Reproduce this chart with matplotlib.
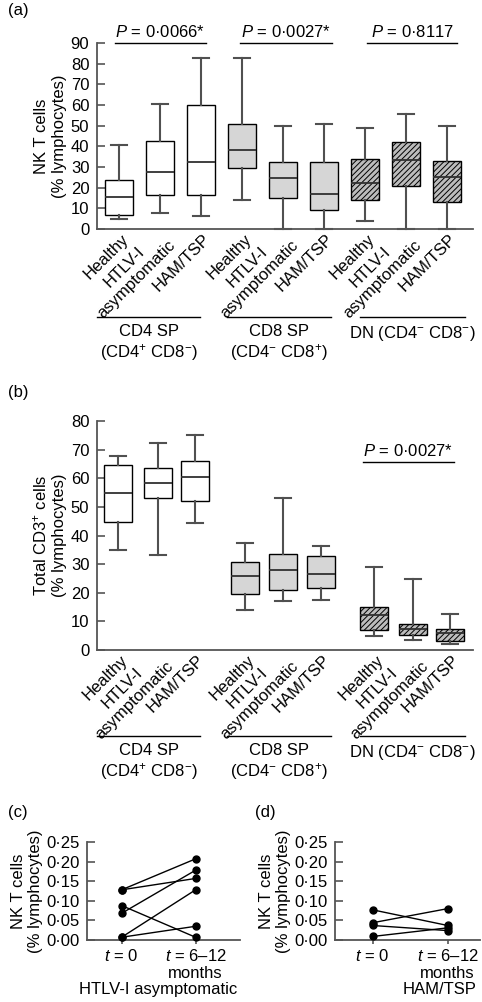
import numpy as np
import matplotlib
matplotlib.use('Agg')
import matplotlib.pyplot as plt
from matplotlib.transforms import ScaledTranslation, offset_copy
from matplotlib.ticker import FuncFormatter

plt.rcParams['font.family'] = ['Liberation Sans', 'DejaVu Sans']
plt.rcParams['mathtext.fontset'] = 'custom'
plt.rcParams['mathtext.rm'] = 'Liberation Sans'
plt.rcParams['mathtext.it'] = 'Liberation Sans:italic'
plt.rcParams['font.size'] = 12
plt.rcParams['hatch.linewidth'] = 0.7

# categorias
subjects = ['Healthy', 'HTLV-I\nasymptomatic', 'HAM/TSP']
groups = ['CD4 SP\n(CD4$^{+}$ CD8$^{-}$)', 'CD8 SP\n(CD4$^{-}$ CD8$^{+}$)', 'DN (CD4$^{-}$ CD8$^{-}$)']

# (a) NK T cells, % lymphocytes (whisker low, Q1, median, Q3, whisker high)
nkt_low = [4.8, 7.7, 6.1, 14.0, 0.0, 0.0, 4.0, 0.0, 0.0]
nkt_q1 = [6.9, 16.6, 16.6, 29.3, 15.1, 9.2, 13.8, 20.6, 12.9]
nkt_med = [15.7, 27.6, 32.3, 38.1, 24.9, 16.9, 22.2, 33.3, 25.1]
nkt_q3 = [23.8, 42.8, 59.8, 50.8, 32.6, 32.6, 34.0, 42.1, 33.1]
nkt_high = [40.5, 60.6, 82.9, 82.9, 49.8, 51.0, 49.0, 55.8, 49.8]
nkt_pvals = ['$P$ = 0·0066*', '$P$ = 0·0027*', '$P$ = 0·8117']

# (b) Total CD3+ cells, % lymphocytes
cd3_low = [35.1, 33.1, 44.4, 13.8, 17.0, 17.4, 4.9, 3.5, 2.1]
cd3_q1 = [44.7, 53.1, 52.0, 19.7, 21.0, 21.5, 6.9, 5.4, 3.3]
cd3_med = [54.7, 58.2, 60.6, 26.0, 28.0, 26.4, 12.3, 7.4, 5.8]
cd3_q3 = [64.8, 63.5, 66.1, 30.8, 33.6, 32.7, 15.0, 9.2, 7.2]
cd3_high = [67.7, 72.4, 75.0, 37.5, 53.0, 36.5, 29.0, 24.7, 12.7]
cd3_pval = '$P$ = 0·0027*'

# (c) y (d) pares t=0 -> t=6-12 meses
htlv_t0 = [0.128, 0.128, 0.068, 0.088, 0.007, 0.007]
htlv_t1 = [0.207, 0.157, 0.178, 0.007, 0.128, 0.035]
ham_t0 = [0.077, 0.044, 0.037, 0.009]
ham_t1 = [0.037, 0.080, 0.024, 0.031]
time_labels = ['$t$ = 0', '$t$ = 6–12\nmonths']

face_colors = ['white'] * 3 + ['#d6d6d6'] * 3 + ['#bcbcbc'] * 3
hatches = [None] * 6 + ['//////'] * 3
pos_a = [1, 2, 3, 4, 5, 6, 7, 8, 9]
pos_b = [0.98, 1.95, 2.85, 4.07, 5.0, 5.93, 7.22, 8.17, 9.07]
group_spans = [(0.46, 2.98), (3.63, 6.17), (6.88, 9.44)]

fig = plt.figure(figsize=(4.82, 10.02), dpi=100)
ax_a = fig.add_axes([97/482, 1-229/1002, 376/482, 186/1002])
ax_b = fig.add_axes([97/482, 1-650/1002, 376/482, 229/1002])
ax_c = fig.add_axes([87/482, 1-940/1002, 153/482, 98/1002])
ax_d = fig.add_axes([335/482, 1-940/1002, 145/482, 98/1002])


def style_axis(ax):
    for s in ['top', 'right']:
        ax.spines[s].set_visible(False)
    for s in ['left', 'bottom']:
        ax.spines[s].set_color('#555555')
        ax.spines[s].set_linewidth(1.3)
    ax.tick_params(axis='y', direction='in', length=6, width=1.2,
                   color='#555555', labelsize=12, pad=5.5)


def draw_boxes(ax, low, q1, med, q3, high, positions):
    stats = [dict(whislo=a, q1=b, med=c, q3=d, whishi=e, fliers=[])
             for a, b, c, d, e in zip(low, q1, med, q3, high)]
    bp = ax.bxp(stats, positions=positions, widths=0.68, capwidths=0.38,
                patch_artist=True, showfliers=False, manage_ticks=False,
                boxprops=dict(edgecolor='black', linewidth=1.0),
                whiskerprops=dict(color='#505050', linewidth=1.5),
                capprops=dict(color='#505050', linewidth=1.5),
                medianprops=dict(color='#303030', linewidth=1.3))
    for patch, fc, h in zip(bp['boxes'], face_colors, hatches):
        patch.set_facecolor(fc)
        if h:
            patch.set_hatch(h)
    for art in bp['whiskers'] + bp['caps']:
        art.set_clip_on(False)


def box_labels(ax, positions, drop):
    off = offset_copy(ax.transData, fig=fig, x=7, y=-8, units='dots')
    for p, lab in zip(positions, subjects * 3):
        ax.text(p, 0, lab, transform=off, rotation=45, ha='right', va='center',
                rotation_mode='anchor', multialignment='center', fontsize=12)
    trans = ax.get_xaxis_transform() + ScaledTranslation(0, -drop/100, fig.dpi_scale_trans)
    for (x0, x1), g in zip(group_spans, groups):
        ax.plot([x0, x1], [0, 0], color='black', lw=1.0, transform=trans, clip_on=False)
        t2 = trans + ScaledTranslation(0, -7/100, fig.dpi_scale_trans)
        ax.text((x0 + x1)/2, 0, g, transform=t2, ha='center', va='top',
                multialignment='center', fontsize=12, linespacing=1.2)


def add_pvalue(ax, x0, x1, y, text):
    ax.plot([x0, x1], [y, y], color='black', lw=1.0, clip_on=False)
    ax.annotate(text, xy=((x0 + x1)/2, y), xytext=(0, 2), textcoords='offset points',
                ha='center', va='bottom', fontsize=12, annotation_clip=False)


# (a)
style_axis(ax_a)
draw_boxes(ax_a, nkt_low, nkt_q1, nkt_med, nkt_q3, nkt_high, pos_a)
ax_a.set_xlim(0.463, 9.634)
ax_a.set_ylim(0, 90)
ax_a.set_yticks(np.arange(0, 91, 10))
ax_a.set_xticks([])
ax_a.set_ylabel('NK T cells\n(% lymphocytes)', fontsize=12, labelpad=3)
box_labels(ax_a, pos_a, 88)
add_pvalue(ax_a, 0.9, 3.12, 90, nkt_pvals[0])
add_pvalue(ax_a, 3.95, 6.2, 90, nkt_pvals[1])
add_pvalue(ax_a, 7.05, 9.25, 90, nkt_pvals[2])

# (b)
style_axis(ax_b)
draw_boxes(ax_b, cd3_low, cd3_q1, cd3_med, cd3_q3, cd3_high, pos_b)
ax_b.set_xlim(0.463, 9.634)
ax_b.set_ylim(0, 80)
ax_b.set_yticks(np.arange(0, 81, 10))
ax_b.set_xticks([])
ax_b.set_ylabel('Total CD3$^{+}$ cells\n(% lymphocytes)', fontsize=12, labelpad=3)
box_labels(ax_b, pos_b, 86)
add_pvalue(ax_b, 6.95, 9.17, 65.7, cd3_pval)

# (c) y (d)
fmt = FuncFormatter(lambda v, _: f'{v:.2f}'.replace('.', '·'))
for ax, t0, t1, title, xl in [(ax_c, htlv_t0, htlv_t1, 'HTLV-I asymptomatic', (-0.467, 1.6)),
                              (ax_d, ham_t0, ham_t1, 'HAM/TSP', (-0.5, 1.43))]:
    style_axis(ax)
    for a, b in zip(t0, t1):
        ax.plot([0, 1], [a, b], color='black', lw=1.0, marker='o', ms=5,
                clip_on=False, zorder=3)
    ax.set_xlim(*xl)
    ax.set_ylim(0, 0.25)
    ax.set_yticks(np.arange(0, 0.26, 0.05))
    ax.yaxis.set_major_formatter(fmt)
    ax.set_xticks([0, 1])
    ax.set_xticklabels(time_labels, fontsize=12, multialignment='center',
                       linespacing=1.1)
    ax.tick_params(axis='x', direction='out', length=3, width=1.2, color='#555555', pad=3)
    ax.set_ylabel('NK T cells\n(% lymphocytes)', fontsize=12, labelpad=2)
    ax.set_xlabel(title, fontsize=12)

ax_c.xaxis.set_label_coords(0.464, -0.43)
ax_d.xaxis.set_label_coords(0.72, -0.43)

fig.text(8/482, 1-11/1002, '(a)', va='center', fontsize=12)
fig.text(8/482, 1-392/1002, '(b)', va='center', fontsize=12)
fig.text(8/482, 1-813/1002, '(c)', va='center', fontsize=12)
fig.text(255/482, 1-813/1002, '(d)', va='center', fontsize=12)

fig.savefig('out.png', dpi=100)
